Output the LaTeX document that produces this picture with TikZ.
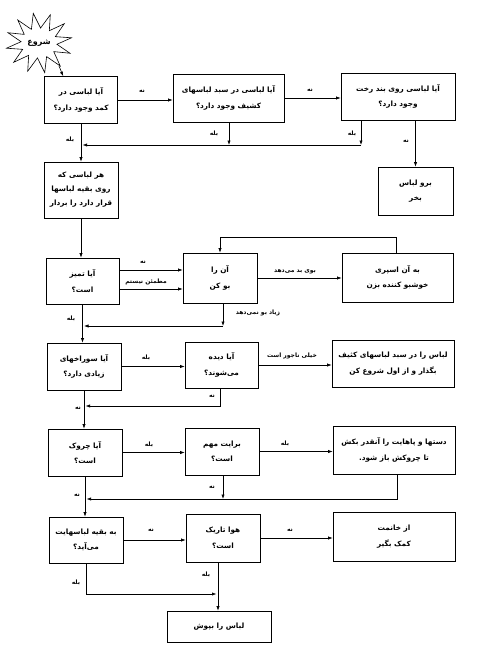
\documentclass[tikz,border=0pt]{standalone}
\usepackage{fontspec}
\newfontfamily\arabicfont[Script=Arabic]{DejaVu Sans}
\TeXXeTstate=1
\usetikzlibrary{arrows.meta,calc}
\newcommand{\fa}[1]{\beginR #1\endR}
\begin{document}
\begin{tikzpicture}[x=1pt,y=-1pt,
  box/.style={draw, line width=0.6pt, align=center, inner sep=2pt,
    font=\arabicfont\bfseries\fontsize{7.3}{15.5}\selectfont},
  lbl/.style={inner sep=1pt, font=\arabicfont\bfseries\fontsize{6}{7}\selectfont},
  arr/.style={-{Latex[length=4.5pt,width=3.2pt]}, line width=0.6pt},
  ln/.style={line width=0.6pt}]
\fill[white] (0,0) rectangle (478,658);
\useasboundingbox (0,0) rectangle (478,658);
% start star
\coordinate (stc) at (39,43);
\draw[ln] plot[samples at={10,25,...,355}] ({39+(33-15*mod((\x-10)/15,2))*cos(\x)},{43-(30-15*mod((\x-10)/15,2))*sin(\x)}) -- cycle;
\node[inner sep=0pt, font=\arabicfont\bfseries\fontsize{8}{9}\selectfont] (st) at (stc) {\fa{شروع}};
\coordinate (sttip) at (59,66);
% boxes
\node[box, minimum width=73, minimum height=47] (b1) at (81,100) {\fa{آیا لباسی در}\\\fa{کمد وجود دارد؟}};
\node[box, minimum width=111, minimum height=48] (b2) at (228.5,98) {\fa{آیا لباسی در سبد لباسهای}\\\fa{کشیف  وجود دارد؟}};
\node[box, minimum width=114, minimum height=47] (b3) at (398,96.5) {\fa{آیا لباسی روی بند رخت}\\\fa{وجود دارد؟}};
\node[box, minimum width=75, minimum height=48] (b4) at (415.5,191) {\fa{برو لباس}\\\fa{بخر}};
\node[box, minimum width=74, minimum height=56, font=\arabicfont\bfseries\fontsize{7.3}{14}\selectfont] (b5) at (81,190) {\fa{هر لباسی که}\\\fa{روی بقیه لباسها}\\\fa{قرار دارد را بردار}};
\node[box, minimum width=73, minimum height=46] (b6) at (82.5,281) {\fa{آیا تمیز}\\\fa{است؟}};
\node[box, minimum width=74, minimum height=50] (b7) at (220,278) {\fa{آن را}\\\fa{بو کن}};
\node[box, minimum width=111, minimum height=49] (b8) at (397.5,277.5) {\fa{به آن اسپری}\\\fa{خوشبو کننده بزن}};
\node[box, minimum width=74, minimum height=47] (b9) at (84,366.5) {\fa{آیا سوراخهای}\\\fa{زیادی دارد؟}};
\node[box, minimum width=73, minimum height=46] (b10) at (221.5,365) {\fa{آیا دیده}\\\fa{می‌شوند؟}};
\node[box, minimum width=122, minimum height=47] (b11) at (393,363.5) {\fa{لباس را در سبد لباسهای کثیف}\\\fa{بگذار و از اول شروع کن}};
\node[box, minimum width=74, minimum height=47] (b12) at (85,452.5) {\fa{آیا چروک}\\\fa{است؟}};
\node[box, minimum width=74, minimum height=47] (b13) at (222,451.5) {\fa{برایت مهم}\\\fa{است؟}};
\node[box, minimum width=122, minimum height=48] (b14) at (394,450) {\fa{دستها و پاهایت را آنقدر بکش}\\\fa{تا چروکش باز شود.}};
\node[box, minimum width=74, minimum height=46] (b15) at (86,540) {\fa{به بقیه لباسهایت}\\\fa{می‌آید؟}};
\node[box, minimum width=74, minimum height=48] (b16) at (223,538) {\fa{هوا تاریک}\\\fa{است؟}};
\node[box, minimum width=122, minimum height=49] (b17) at (394,536.5) {\fa{از خانمت}\\\fa{کمک بگیر}};
\node[box, minimum width=104, minimum height=31] (b18) at (219,626.5) {\fa{لباس را بپوش}};
% junction coordinates
\coordinate (j1) at (229,145);
\coordinate (j2) at (361,145);
\coordinate (j3) at (223,326);
\coordinate (j4) at (220,406);
\coordinate (j5) at (223,499);
\coordinate (j6) at (218,594);
% connectors
\draw[arr] (sttip) -- ($(b1.north west)+(19,0)$);
\draw[arr] (b1.east) -- (b1.east -| b2.west);
\draw[arr] (b2.east) -- (b2.east -| b3.west);
\draw[arr] (b4.north |- b3.south) -- (b4.north);
\draw[arr] (j1 |- b2.south) -- (j1);
\draw[arr] (j2 |- b3.south) -- (j2);
\draw[arr] (j2) -- ($(j2 -| b1.south)+(1.5,0)$);
\draw[arr] (b1.south) -- (b1.south |- b5.north);
\draw[arr] (b5.south) -- (b5.south |- b6.north);
\draw[arr] ([yshift=11]b6.east) -- ([yshift=11]b6.east -| b7.west);
\draw[arr] ([yshift=-8]b6.east) -- ([yshift=-8]b6.east -| b7.west);
\draw[arr] (b7.east) -- (b7.east -| b8.west);
\draw[arr] ([xshift=-1.5]b8.north) -- ++(0,-15) -| (b7.north);
\draw[arr] (j3 |- b7.south) -- (j3);
\draw[arr] (j3) -- ($(j3 -| b6.south)+(1.5,0)$);
\draw[arr] (b6.south) -- (b6.south |- b9.north);
\draw[arr] (b9.east) -- (b9.east -| b10.west);
\draw[arr] (b10.east) -- (b10.east -| b11.west);
\draw[arr] (j4 |- b10.south) |- ($(j4 -| b9.south)+(1.5,0)$);
\draw[arr] (b9.south) -- (b9.south |- b12.north);
\draw[arr] (b12.east) -- (b12.east -| b13.west);
\draw[arr] (b13.east) -- (b13.east -| b14.west);
\draw[arr] (j5 |- b13.south) -- (j5);
\draw[arr] ([xshift=3]b14.south) |- ($(j5 -| b12.south)+(1.5,0)$);
\draw[arr] (b12.south) -- (b12.south |- b15.north);
\draw[arr] (b15.east) -- (b15.east -| b16.west);
\draw[arr] (b16.east) -- (b16.east -| b17.west);
\draw[arr] (j6 |- b16.south) -- (j6 |- b18.north);
\draw[arr] (b15.south) |- ($(j6)+(-1.5,0)$);
% labels
\node[lbl] (l1) at (142,91) {\fa{نه}};
\node[lbl] (l2) at (310,90) {\fa{نه}};
\node[lbl] (l3) at (406,141) {\fa{نه}};
\node[lbl] (l4) at (214,134) {\fa{بله}};
\node[lbl] (l5) at (352,134) {\fa{بله}};
\node[lbl] (l6) at (70,140) {\fa{بله}};
\node[lbl] (l7) at (143,262) {\fa{نه}};
\node[lbl] (l8) at (146,282) {\fa{مطمئن نیستم}};
\node[lbl] (l9) at (295,272) {\fa{بوی بد می‌دهد}};
\node[lbl] (l10) at (258,313) {\fa{زیاد بو نمی‌دهد}};
\node[lbl] (l11) at (71,319) {\fa{بله}};
\node[lbl] (l12) at (146,358) {\fa{بله}};
\node[lbl] (l13) at (292,356) {\fa{خیلی ناجور است}};
\node[lbl] (l14) at (212,396) {\fa{نه}};
\node[lbl] (l15) at (78,408) {\fa{نه}};
\node[lbl] (l16) at (149,445) {\fa{بله}};
\node[lbl] (l17) at (285,444) {\fa{بله}};
\node[lbl] (l18) at (212,487) {\fa{نه}};
\node[lbl] (l19) at (77,495) {\fa{نه}};
\node[lbl] (l20) at (151,530) {\fa{نه}};
\node[lbl] (l21) at (290,530) {\fa{نه}};
\node[lbl] (l22) at (206,575) {\fa{بله}};
\node[lbl] (l23) at (76,583) {\fa{بله}};
\end{tikzpicture}
\end{document}
